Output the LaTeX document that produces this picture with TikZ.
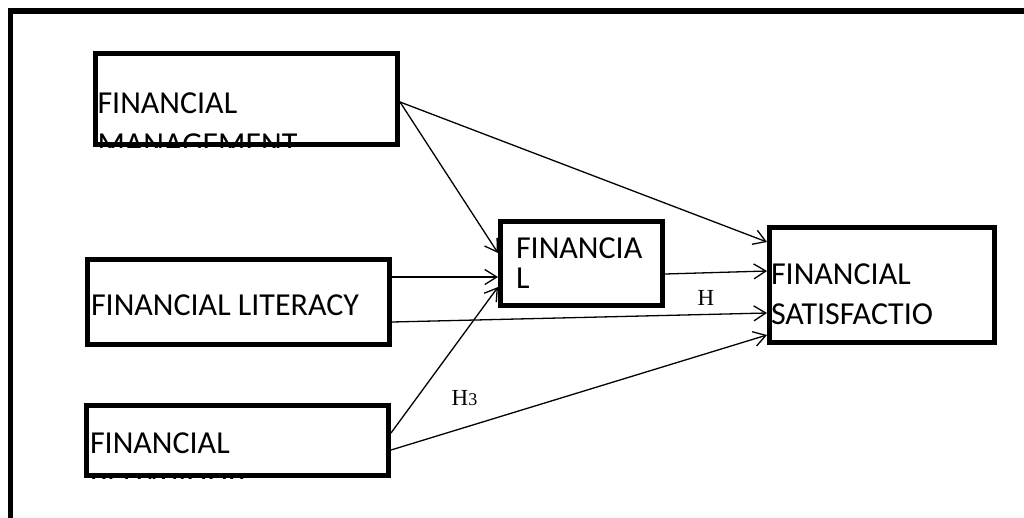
\documentclass[tikz,border=0pt]{standalone}
\usepackage{fontspec}
\setmainfont{Carlito}
\newfontfamily\labelserif{Liberation Serif}
\usetikzlibrary{arrows.meta,calc}

\begin{document}
\begin{tikzpicture}[x=1pt,y=-1pt,
  varbox/.style={draw, line width=5pt, outer sep=2.5pt, inner sep=0pt, rectangle},
  boxtext/.style={anchor=base west, inner sep=0pt, outer sep=0pt,
    font=\fontsize{32}{40}\selectfont},
  link/.style={line width=1.3pt, line cap=round,
    -{Straight Barb[length=12pt,width=15pt,line width=1.3pt]}},
  hlabel/.style={font=\labelserif\fontsize{23}{23}\selectfont, inner sep=0pt, anchor=base west}
]
\useasboundingbox (0,0) rectangle (1024,517);
\clip (0,0) rectangle (1024,517);

% outer frame
\draw[line width=5.5pt, line join=miter] (10.5,540) -- (10.5,11) -- (1040,11);

% variable boxes
\node[varbox, minimum width=302pt, minimum height=91pt] (fm) at (246.5,99) {};
\node[varbox, minimum width=302pt, minimum height=85pt] (fl) at (238.5,302) {};
\node[varbox, minimum width=302pt, minimum height=70pt] (fb) at (237.5,440.5) {};
\node[varbox, minimum width=162pt, minimum height=84pt] (fi) at (581.5,263.5) {};
\node[varbox, minimum width=225pt, minimum height=115pt] (fs) at (882,285) {};

% box texts, cut off at the box edges
\begin{scope}
  \clip (fm.north west) rectangle (fm.south east);
  \node[boxtext] (fm-a) at ($(fm.north west)+(4.5,62)$) {FINANCIAL};
  \node[boxtext] (fm-b) at ($(fm.north west)+(4.5,103)$) {MANAGEMENT};
\end{scope}
\begin{scope}
  \clip (fl.north west) rectangle (fl.south east);
  \node[boxtext] (fl-a) at ($(fl.north west)+(6,58)$) {FINANCIAL LITERACY};
\end{scope}
\begin{scope}
  \clip (fb.north west) rectangle (fb.south east);
  \node[boxtext] (fb-a) at ($(fb.north west)+(6,50)$) {FINANCIAL};
  \node[boxtext] (fb-b) at ($(fb.north west)+(6,91)$) {BEHAVIOUR};
\end{scope}
\begin{scope}
  \clip (fi.north west) rectangle (fi.south east);
  \node[boxtext] (fi-a) at ($(fi.north west)+(18,39)$) {FINANCIA};
  \node[boxtext] (fi-b) at ($(fi.north west)+(18,69)$) {L};
\end{scope}
\begin{scope}
  \clip (fs.north west) rectangle (fs.south east);
  \node[boxtext] (fs-a) at ($(fs.north west)+(4,59)$) {FINANCIAL};
  \node[boxtext] (fs-b) at ($(fs.north west)+(4,99)$) {SATISFACTIO};
\end{scope}

% paths between variables
\draw[link] ($(fm.east)+(0,3)$) -- ($(fi.west)+(0,-10.5)$);
\draw[link] ($(fm.east)+(0,3)$) -- ($(fs.west)+(0,-43)$);
\draw[link] ($(fl.east)+(0,-25)$) -- ($(fi.west)+(0,13.5)$);
\draw[link] ($(fl.east)+(0,20)$) -- ($(fs.west)+(0,28)$);
\draw[link] ($(fb.east)+(0,-7.5)$) -- ($(fi.west)+(0,23.5)$);
\draw[link] ($(fb.east)+(0,9.5)$) -- ($(fs.west)+(0,50)$);
\draw[link] ($(fi.east)+(0,10.5)$) -- ($(fs.west)+(0,-14)$);

% hypothesis labels
\node[hlabel] (h2) at (697.5,305) {H};
\node[hlabel] (h3) at (451.5,405) {H{\fontsize{18}{18}\selectfont 3}};
\end{tikzpicture}
\end{document}
